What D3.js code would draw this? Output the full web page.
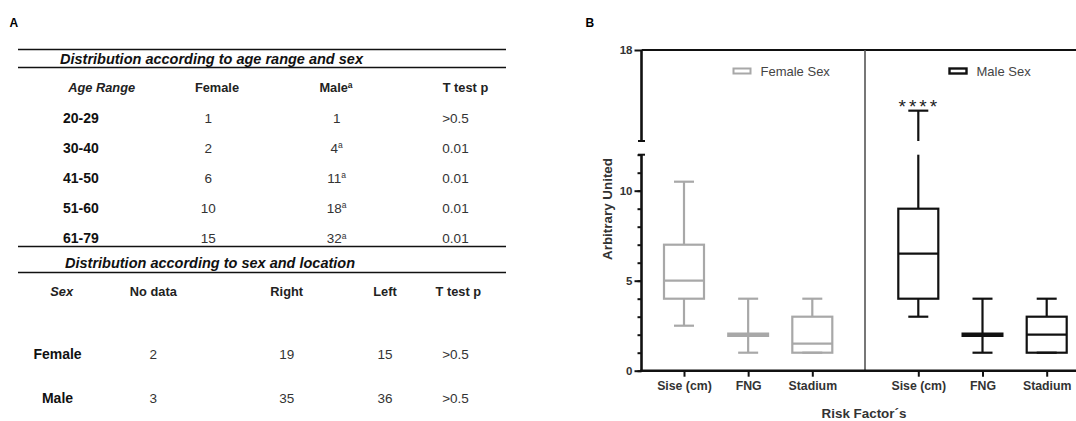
<!DOCTYPE html>
<html><head><meta charset="utf-8">
<script src="https://cdn.jsdelivr.net/npm/d3@7"></script>
<style>
html,body{margin:0;padding:0;background:#fff;}
svg{display:block;font-family:"Liberation Sans",Arial,sans-serif;}
</style></head>
<body>
<svg id="c" width="1076" height="421"></svg>
<script>
// ---------- Table data (panel A) ----------
const ageRanges = ["20-29","30-40","41-50","51-60","61-79"];
const femaleCounts = [1,2,6,10,15];
const maleCounts = [1,4,11,18,32];
const maleSup = ["","a","a","a","a"];
const ageP = [">0.5","0.01","0.01","0.01","0.01"];
const ageHeaders = ["Age Range","Female","Male","T test p"];
const sexes = ["Female","Male"];
const noData = [2,3];
const rightCounts = [19,35];
const leftCounts = [15,36];
const sexP = [">0.5",">0.5"];
const sexHeaders = ["Sex","No data","Right","Left","T test p"];
const title1 = "Distribution according to age range and sex";
const title2 = "Distribution according to sex and location";

// ---------- Box plot data (panel B) ----------
const categories = ["Sise (cm)","FNG","Stadium"];
const groups = ["Female Sex","Male Sex"];
const femaleMin = [2.5,1,1], femaleQ1 = [4,2,1], femaleMed = [5,2,1.5], femaleQ3 = [7,2,3], femaleMax = [10.5,4,4];
const maleMin = [3,1,1], maleQ1 = [4,2,1], maleMed = [6.5,2,2], maleQ3 = [9,2,3], maleMax = [14,4,4];
const yTicksMajor = [0,5,10];
const yTicksTop = [18];
const significance = ["****","",""];

const svg = d3.select("#c");
const FONT = "'Liberation Sans',Arial,sans-serif";

// ================= Panel A =================
const A = svg.append("g");
A.append("text").attr("x",9.5).attr("y",26.5).attr("font-weight","bold").attr("font-size",12).text("A");
const rule = y => A.append("line").attr("x1",18).attr("x2",506).attr("y1",y).attr("y2",y).attr("stroke","#111").attr("stroke-width",1.4);
[49.5,67.5,246.5,272.5].forEach(rule);
A.append("text").attr("x",60).attr("y",64).attr("font-size",14.5).attr("font-weight","bold").attr("font-style","italic").attr("fill","#111").text(title1);
A.append("text").attr("x",65).attr("y",267.5).attr("font-size",14.5).attr("font-weight","bold").attr("font-style","italic").attr("fill","#111").text(title2);

const rowY = d3.scalePoint().domain(ageRanges).range([118,238.5]);
const hdrY = 87.5;
const hx = [101.7,217,336,465.5];
ageHeaders.forEach((h,i)=>{
  const t = A.append("text").attr("x",hx[i]).attr("y",hdrY).attr("dy","0.35em").attr("text-anchor","middle")
    .attr("font-size",12.8).attr("font-weight","bold").attr("font-style",i===0?"italic":"normal").attr("fill","#222").text(h);
  if(h==="Male") t.append("tspan").attr("font-size",8.5).attr("dy","-0.5em").text("a");
});
ageRanges.forEach((r,i)=>{
  const y = rowY(r);
  A.append("text").attr("x",63).attr("y",y).attr("dy","0.35em").attr("font-size",14).attr("font-weight","bold").attr("fill","#111").text(r);
  A.append("text").attr("x",208.3).attr("y",y).attr("dy","0.35em").attr("text-anchor","middle").attr("font-size",13.5).attr("fill","#333").text(femaleCounts[i]);
  const m = A.append("text").attr("x",336.7).attr("y",y).attr("dy","0.35em").attr("text-anchor","middle").attr("font-size",13.5).attr("fill","#333").text(maleCounts[i]);
  if(maleSup[i]) m.append("tspan").attr("font-size",8.5).attr("dy","-0.55em").text(maleSup[i]);
  A.append("text").attr("x",455.5).attr("y",y).attr("dy","0.35em").attr("text-anchor","middle").attr("font-size",13.5).attr("fill","#333").text(ageP[i]);
});
const sx = [61.7,153.3,286.7,385,458.3];
sexHeaders.forEach((h,i)=>{
  A.append("text").attr("x",sx[i]).attr("y",291.7).attr("dy","0.35em").attr("text-anchor","middle")
    .attr("font-size",12.8).attr("font-weight","bold").attr("font-style",i===0?"italic":"normal").attr("fill","#222").text(h);
});
const sexY = d3.scalePoint().domain(sexes).range([354.3,398.3]);
sexes.forEach((s,i)=>{
  const y = sexY(s);
  A.append("text").attr("x",57.5).attr("y",y).attr("dy","0.35em").attr("text-anchor","middle").attr("font-size",14).attr("font-weight","bold").attr("fill","#111").text(s);
  [noData[i],rightCounts[i],leftCounts[i],sexP[i]].forEach((v,j)=>{
    A.append("text").attr("x",[153.3,286.7,385,455.5][j]).attr("y",y).attr("dy","0.35em").attr("text-anchor","middle").attr("font-size",13.5).attr("fill","#333").text(v);
  });
});

// ================= Panel B =================
const B = svg.append("g");
B.append("text").attr("x",585.5).attr("y",26.5).attr("font-weight","bold").attr("font-size",12).text("B");
const axX = 641.5, right = 1076, y0 = 370.7;
const yLow = d3.scaleLinear().domain([0,12]).range([370.7,154.7]);
const yHigh = d3.scaleLinear().domain([12,18]).range([141,50]);
const xF = d3.scalePoint().domain(categories).range([684,812.3]);
const xM = d3.scalePoint().domain(categories).range([918.3,1046.7]);
const colors = {"Female Sex":"#a8a8a8","Male Sex":"#111"};

// frame top + separator
B.append("line").attr("x1",axX).attr("x2",right).attr("y1",yHigh(18)).attr("y2",yHigh(18)).attr("stroke","#111").attr("stroke-width",2);
B.append("line").attr("x1",865).attr("x2",865).attr("y1",yHigh(18)).attr("y2",y0).attr("stroke","#555").attr("stroke-width",1.6);

// Y axis lower segment
const gLow = B.append("g").attr("transform",`translate(${axX},0)`);
gLow.call(d3.axisLeft(yLow).tickValues(d3.range(0,13)).tickSize(4).tickFormat(""));
gLow.call(g=>g.selectAll(".domain").remove());
const gLowMaj = B.append("g").attr("transform",`translate(${axX},0)`)
  .call(d3.axisLeft(yLow).tickValues(yTicksMajor).tickSize(7).tickPadding(2).tickFormat(d3.format("d")));
gLowMaj.select(".domain").remove();
[gLow,gLowMaj].forEach(g=>g.selectAll("line").attr("stroke","#111").attr("stroke-width",2));
gLowMaj.selectAll("text").attr("font-size",11.5).attr("font-weight","bold").attr("fill","#333").attr("font-family",FONT);
B.append("line").attr("x1",axX).attr("x2",axX).attr("y1",yLow(12)).attr("y2",yLow(0)).attr("stroke","#111").attr("stroke-width",2.6);
B.append("line").attr("x1",axX-3.5).attr("x2",axX+3.5).attr("y1",yLow(12)).attr("y2",yLow(12)).attr("stroke","#111").attr("stroke-width",2);
// Y axis upper segment
const gHigh = B.append("g").attr("transform",`translate(${axX},0)`)
  .call(d3.axisLeft(yHigh).tickValues(yTicksTop).tickSize(7).tickPadding(2).tickFormat(d3.format("d")));
gHigh.select(".domain").remove();
gHigh.selectAll("line").attr("stroke","#111").attr("stroke-width",2);
gHigh.selectAll("text").attr("font-size",11.5).attr("font-weight","bold").attr("fill","#333").attr("font-family",FONT);
B.append("line").attr("x1",axX).attr("x2",axX).attr("y1",yHigh(18)).attr("y2",yHigh(12)).attr("stroke","#111").attr("stroke-width",2.6);
B.append("line").attr("x1",axX-3.5).attr("x2",axX+3.5).attr("y1",yHigh(12)).attr("y2",yHigh(12)).attr("stroke","#111").attr("stroke-width",2);

// X axis
B.append("line").attr("x1",axX-1.3).attr("x2",right).attr("y1",y0).attr("y2",y0).attr("stroke","#111").attr("stroke-width",2.6);
[xF,xM].forEach(xs=>{
  const g = B.append("g").attr("transform",`translate(0,${y0})`).call(d3.axisBottom(xs).tickSize(6).tickPadding(5));
  g.select(".domain").remove();
  g.selectAll("line").attr("stroke","#111").attr("stroke-width",2);
  g.selectAll("text").attr("font-size",12.3).attr("font-weight","bold").attr("fill","#333").attr("font-family",FONT);
});
B.append("text").attr("x",864).attr("y",413).attr("dy","0.35em").attr("text-anchor","middle").attr("font-size",13.4).attr("font-weight","bold").attr("fill","#333").text("Risk Factor´s");
B.append("text").attr("transform","translate(607,209) rotate(-90)").attr("dy","0.35em").attr("text-anchor","middle").attr("font-size",13.4).attr("font-weight","bold").attr("fill","#333").text("Arbitrary United");

// segments of a vertical whisker across the broken axis
function vSeg(g, x, a, b, color, w){
  const lo=Math.min(a,b), hi=Math.max(a,b);
  if(lo<12){ g.append("line").attr("x1",x).attr("x2",x).attr("y1",yLow(lo)).attr("y2",yLow(Math.min(hi,12))).attr("stroke",color).attr("stroke-width",w); }
  if(hi>12){ g.append("line").attr("x1",x).attr("x2",x).attr("y1",yHigh(Math.max(lo,12))).attr("y2",yHigh(hi)).attr("stroke",color).attr("stroke-width",w); }
}
const yv = v => v<=12 ? yLow(v) : yHigh(v);

function drawGroup(xs, mins, q1s, meds, q3s, maxs, color, sig){
  const g = B.append("g");
  categories.forEach((c,i)=>{
    const x = xs(c), bw = 40, cw = 20, sw = 2.2;
    vSeg(g,x,q3s[i],maxs[i],color,sw);
    vSeg(g,x,mins[i],q1s[i],color,sw);
    g.append("line").attr("x1",x-cw/2).attr("x2",x+cw/2).attr("y1",yv(maxs[i])).attr("y2",yv(maxs[i])).attr("stroke",color).attr("stroke-width",sw);
    g.append("line").attr("x1",x-cw/2).attr("x2",x+cw/2).attr("y1",yv(mins[i])).attr("y2",yv(mins[i])).attr("stroke",color).attr("stroke-width",sw);
    if(q3s[i]>q1s[i]){
      g.append("rect").attr("x",x-bw/2).attr("y",yLow(q3s[i])).attr("width",bw).attr("height",yLow(q1s[i])-yLow(q3s[i]))
        .attr("fill","none").attr("stroke",color).attr("stroke-width",sw);
      g.append("line").attr("x1",x-bw/2).attr("x2",x+bw/2).attr("y1",yLow(meds[i])).attr("y2",yLow(meds[i])).attr("stroke",color).attr("stroke-width",sw);
    } else {
      g.append("line").attr("x1",x-bw/2-1).attr("x2",x+bw/2+1).attr("y1",yLow(meds[i])).attr("y2",yLow(meds[i])).attr("stroke",color).attr("stroke-width",4.5);
    }
    if(sig && sig[i]){
      g.append("text").attr("x",x+1).attr("y",yv(maxs[i])+2.5).attr("text-anchor","middle").attr("font-size",19).attr("fill","#222").attr("letter-spacing",3).text(sig[i]);
    }
  });
}
drawGroup(xF, femaleMin, femaleQ1, femaleMed, femaleQ3, femaleMax, colors["Female Sex"], null);
drawGroup(xM, maleMin, maleQ1, maleMed, maleQ3, maleMax, colors["Male Sex"], significance);

// legends
const legX = {"Female Sex":[733.5,760.5],"Male Sex":[949.5,976.5]};
groups.forEach(gname=>{
  const [sx0,tx] = legX[gname];
  B.append("rect").attr("x",sx0).attr("y",68.5).attr("width",17).attr("height",5).attr("fill","none")
    .attr("stroke",colors[gname]).attr("stroke-width",gname==="Male Sex"?2.4:2);
  B.append("text").attr("x",tx).attr("y",71).attr("dy","0.35em").attr("font-size",13).attr("fill","#444").text(gname);
});
</script>
</body></html>
